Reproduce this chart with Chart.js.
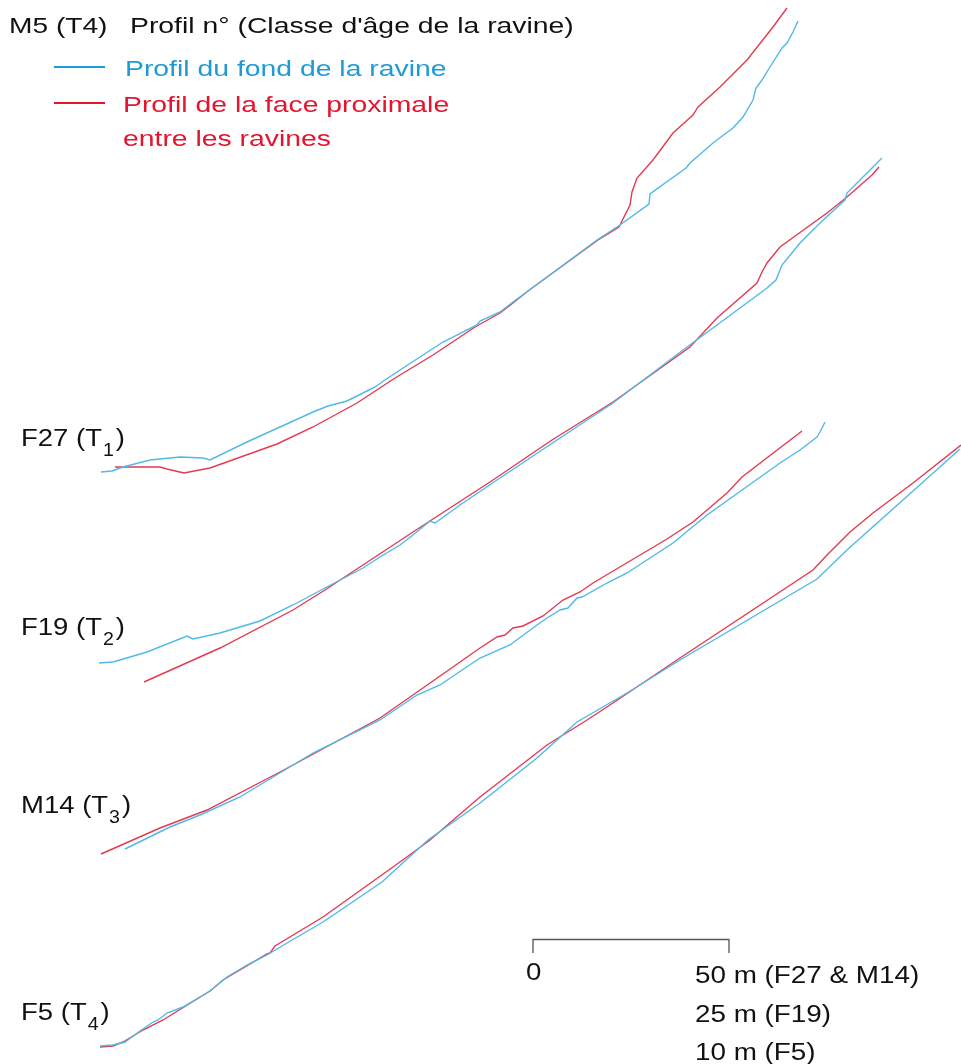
<!DOCTYPE html>
<html>
<head>
<meta charset="utf-8">
<script src="https://cdn.jsdelivr.net/npm/chart.js@4"></script>
<style>
  body { margin: 0; background: #fff; }
  canvas { display: block; }
</style>
</head>
<body>
<canvas id="profiles" width="961" height="1064"></canvas>
<script>
// relative distance (x) and relative elevation (y) of each profile
const f27FondX = [10.1, 11.2, 12.3, 15.0, 18.0, 20.3, 21.0, 24.7, 28.0, 31.3, 32.8, 34.7, 36.7, 37.5, 38.5, 40.0, 44.3, 47.7, 48.0, 50.0, 51.3, 54.3, 59.7, 62.0, 64.9, 65.0, 68.6, 69.0, 71.3, 73.3, 74.3, 75.3, 75.6, 76.2, 77.0, 78.2, 78.7, 79.3, 79.8];
const f27FondY = [59.2, 59.3, 59.7, 60.4, 60.7, 60.6, 60.4, 62.2, 63.7, 65.2, 65.8, 66.3, 67.3, 67.7, 68.4, 69.4, 72.2, 73.9, 74.3, 75.2, 76.2, 78.4, 82.4, 83.9, 86.0, 87.0, 89.6, 90.1, 92.1, 93.6, 94.7, 96.4, 97.6, 98.4, 99.7, 101.6, 102.1, 103.2, 104.3];
const f27FaceX = [11.5, 16.0, 16.7, 18.4, 21.0, 27.7, 31.3, 35.7, 39.2, 40.0, 43.3, 47.5, 50.0, 51.3, 52.8, 54.3, 59.8, 61.9, 63.0, 63.2, 63.7, 65.3, 67.3, 69.3, 69.8, 72.0, 74.7, 77.3, 78.7];
const f27FaceY = [59.7, 59.7, 59.5, 59.1, 59.6, 62.0, 63.7, 66.1, 68.4, 68.9, 70.9, 73.7, 75.1, 76.1, 77.3, 78.4, 82.4, 83.7, 85.9, 87.2, 88.6, 90.4, 93.1, 94.9, 95.7, 97.7, 100.4, 103.7, 105.6];

const f19FondX = [9.9, 11.3, 14.7, 18.7, 19.3, 22.0, 26.0, 29.3, 32.5, 36.3, 38.0, 40.0, 41.3, 43.0, 43.5, 46.0, 49.7, 55.7, 61.3, 68.3, 71.7, 76.7, 77.6, 78.2, 80.0, 82.0, 84.5, 84.7, 86.3, 88.2];
const f19FondY = [40.1, 40.2, 41.2, 42.8, 42.5, 43.1, 44.3, 45.9, 47.6, 49.6, 50.7, 51.9, 52.9, 54.3, 54.1, 55.9, 58.4, 62.4, 66.1, 71.4, 73.9, 77.6, 78.4, 79.9, 82.1, 84.1, 86.4, 87.1, 88.7, 90.6];
const f19FaceX = [14.4, 22.0, 29.3, 32.5, 41.3, 49.3, 55.2, 61.3, 69.0, 71.7, 75.7, 76.2, 76.7, 78.0, 82.7, 84.7, 87.2, 87.9];
const f19FaceY = [38.2, 41.6, 45.4, 47.4, 53.2, 58.4, 62.4, 66.2, 71.7, 74.6, 78.1, 79.2, 80.1, 81.7, 85.1, 86.7, 88.9, 89.7];

const m14FondX = [12.5, 17.0, 20.0, 24.0, 31.3, 38.0, 41.7, 44.0, 48.0, 51.0, 53.7, 54.7, 56.0, 56.8, 57.7, 58.2, 60.7, 62.7, 67.3, 70.7, 78.0, 80.0, 81.7, 82.0, 82.5];
const m14FondY = [21.5, 23.7, 24.9, 26.7, 31.1, 34.4, 36.9, 37.9, 40.6, 41.9, 43.9, 44.6, 45.4, 45.6, 46.6, 46.7, 48.1, 49.1, 52.1, 54.9, 60.1, 61.4, 62.7, 63.2, 64.2];
const m14FaceX = [10.1, 16.0, 20.7, 28.0, 38.0, 41.3, 48.0, 49.7, 50.5, 51.3, 52.3, 54.3, 56.3, 58.0, 59.3, 66.7, 69.3, 72.7, 74.2, 80.2];
const m14FaceY = [21.0, 23.6, 25.4, 29.2, 34.6, 36.9, 41.6, 42.7, 42.9, 43.6, 43.8, 44.8, 46.4, 47.2, 48.1, 52.5, 54.2, 57.1, 58.7, 63.3];

const f5FondX = [10.0, 11.3, 12.5, 14.0, 15.3, 15.8, 16.7, 18.3, 21.0, 22.7, 24.7, 26.7, 28.7, 32.3, 38.2, 42.8, 48.0, 53.7, 57.7, 62.7, 68.0, 81.7, 84.7, 96.0];
const f5FondY = [1.8, 1.9, 2.2, 3.3, 4.2, 4.4, 5.1, 5.7, 7.3, 8.7, 9.9, 10.9, 12.1, 14.2, 18.2, 22.4, 26.1, 30.6, 34.2, 37.1, 40.4, 48.5, 51.4, 61.5];
const f5FaceX = [10.0, 11.3, 12.3, 14.3, 16.3, 21.0, 22.3, 26.7, 27.0, 27.5, 32.3, 40.0, 43.0, 48.0, 54.7, 58.7, 61.3, 68.0, 81.3, 82.7, 85.0, 87.3, 91.3, 96.1];
const f5FaceY = [1.7, 1.8, 2.2, 3.4, 4.4, 7.3, 8.4, 11.0, 11.1, 11.8, 14.7, 20.2, 22.4, 26.7, 31.9, 34.4, 36.1, 40.6, 49.4, 50.9, 53.2, 55.1, 58.1, 61.9];

// scale bar
const scaleBarX = [53.3, 53.3, 72.9, 72.9];
const scaleBarY = [11.1, 12.45, 12.45, 11.1];
const scaleLabels = ['50 m (F27 & M14)', '25 m (F19)', '10 m (F5)'];

// profile names, age class subscripts, label baseline (elevation units)
const profileNames = ['F27', 'F19', 'M14', 'F5'];
const profileClasses = ['1', '2', '3', '4'];
const labelBaseY = [61.8, 42.9, 25.1, 4.4];

const blueLine = '#4fb9e8';
const redLine = '#e43a50';
const blueText = '#1f9ad7';
const redText = '#e3142e';
const FONT = '"Liberation Sans", Arial, sans-serif';

const zip = (xs, ys) => xs.map((x, i) => ({ x: x, y: ys[i] }));

const line = (xs, ys, color) => ({
  data: zip(xs, ys),
  showLine: true,
  borderColor: color,
  borderWidth: 1.4,
  pointRadius: 0,
  fill: false,
  tension: 0
});

// the source figure's lettering is stretched horizontally, so scale x when drawing
function text(ctx, str, x, y, size, color, sx) {
  ctx.save();
  ctx.font = size + 'px ' + FONT;
  ctx.fillStyle = color;
  ctx.textBaseline = 'alphabetic';
  ctx.translate(x, y);
  ctx.scale(sx, 1);
  ctx.fillText(str, 0, 0);
  const w = ctx.measureText(str).width * sx;
  ctx.restore();
  return w;
}

const annotations = {
  id: 'annotations',
  afterDraw(chart) {
    const ctx = chart.ctx;
    const xs = chart.scales.x, ys = chart.scales.y;

    // title
    text(ctx, 'M5 (T4)', 9, 33, 22.5, '#111', 1.25);
    text(ctx, "Profil n° (Classe d'âge de la ravine)", 130, 33, 22.5, '#111', 1.26);

    // legend
    ctx.save();
    ctx.lineWidth = 2;
    ctx.strokeStyle = blueText;
    ctx.beginPath(); ctx.moveTo(54, 67); ctx.lineTo(105, 67); ctx.stroke();
    ctx.strokeStyle = redText;
    ctx.beginPath(); ctx.moveTo(54, 103); ctx.lineTo(105, 103); ctx.stroke();
    ctx.restore();
    text(ctx, 'Profil du fond de la ravine', 125, 76, 22.5, blueText, 1.26);
    text(ctx, 'Profil de la face proximale', 123, 112, 22.5, redText, 1.26);
    text(ctx, 'entre les ravines', 123, 146, 22.5, redText, 1.26);

    // profile labels
    profileNames.forEach((name, i) => {
      const px = xs.getPixelForValue(2.1);
      const py = ys.getPixelForValue(labelBaseY[i]);
      let w = text(ctx, name + ' (T', px, py, 23.5, '#111', 1.17);
      w += text(ctx, profileClasses[i], px + w + 1, py + 10, 17.5, '#111', 1.12);
      text(ctx, ')', px + w + 3, py, 23.5, '#111', 1.17);
    });

    // scale bar labels
    const x0 = xs.getPixelForValue(scaleBarX[0]);
    const x1 = xs.getPixelForValue(scaleBarX[2]);
    const yb = ys.getPixelForValue(scaleBarY[0]);
    text(ctx, '0', x0 - 7, yb + 27, 23, '#111', 1.2);
    scaleLabels.forEach((s, i) => {
      text(ctx, s, x1 - 34, yb + 30 + i * 38.5, 23, '#111', 1.21);
    });
  }
};

new Chart(document.getElementById('profiles'), {
  type: 'scatter',
  data: {
    datasets: [
      line(f27FondX, f27FondY, blueLine),
      line(f27FaceX, f27FaceY, redLine),
      line(f19FondX, f19FondY, blueLine),
      line(f19FaceX, f19FaceY, redLine),
      line(m14FondX, m14FondY, blueLine),
      line(m14FaceX, m14FaceY, redLine),
      line(f5FondX, f5FondY, blueLine),
      line(f5FaceX, f5FaceY, redLine),
      Object.assign(line(scaleBarX, scaleBarY, '#555'), { borderWidth: 1.3 })
    ]
  },
  options: {
    responsive: false,
    animation: false,
    layout: { padding: 0 },
    scales: {
      x: { type: 'linear', min: 0, max: 96.1, display: false },
      y: { type: 'linear', min: 0, max: 106.4, display: false }
    },
    plugins: {
      legend: { display: false },
      tooltip: { enabled: false }
    }
  },
  plugins: [annotations]
});
</script>
</body>
</html>
